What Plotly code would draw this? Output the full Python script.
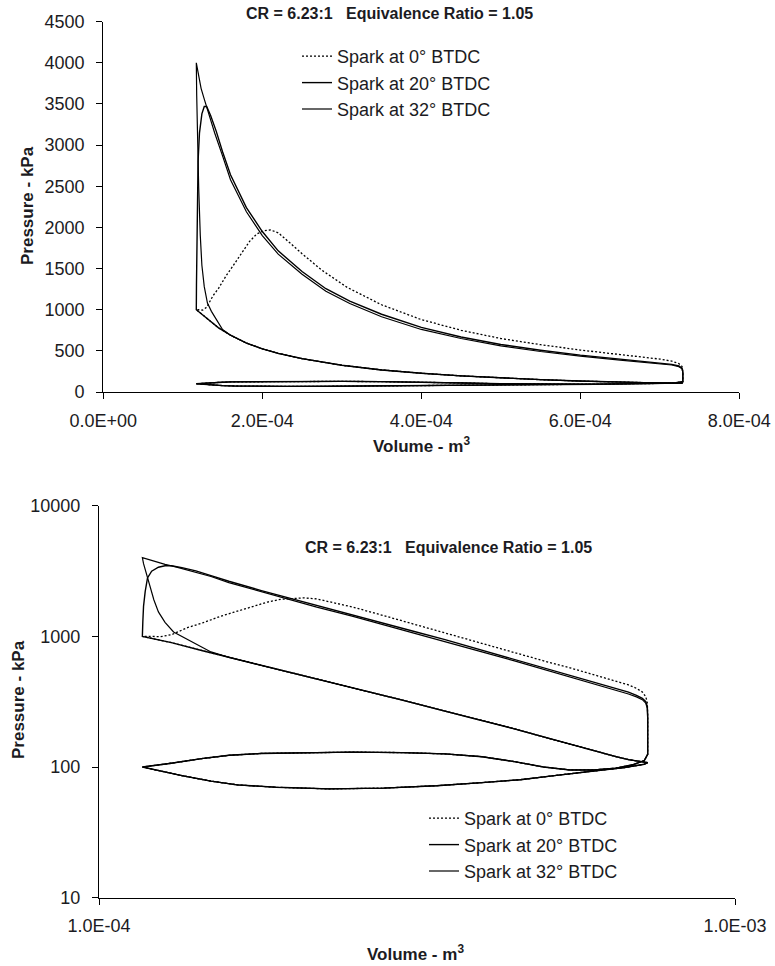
import numpy as np
import plotly.graph_objects as go

# ---------------------------------------------------------------------------
# Cycle data: volume in units of 1e-4 m^3, pressure in kPa
# ---------------------------------------------------------------------------

# intake stroke (TDC -> BDC), shared by all three cases
intake_vol = [1.17, 1.25, 1.35, 1.5, 1.65, 1.9, 2.3, 2.8, 3.4, 4.0, 4.6, 5.2, 5.7, 6.2, 6.7, 7.0, 7.2, 7.29]
intake_p = [100, 93, 86, 78, 73, 70, 68, 69, 72, 76, 80, 86, 91, 95, 99, 102, 105, 108]

# compression stroke (BDC -> TDC), unfired part
compression_vol = [7.29, 7.1, 6.8, 6.5, 6.0, 5.5, 5.0, 4.5, 4.0, 3.5, 3.0, 2.5, 2.2, 2.0, 1.8, 1.6, 1.45, 1.3, 1.17]
compression_p = [108, 110, 114, 120, 133, 150, 170, 196, 228, 268, 325, 405, 470, 525, 595, 690, 780, 895, 1000]

# exhaust stroke (BDC -> TDC), shared by all three cases
exhaust_vol = [7.29, 7.2, 6.9, 6.5, 6.0, 5.5, 5.0, 4.5, 4.0, 3.5, 3.0, 2.5, 2.1, 1.8, 1.6, 1.45, 1.3, 1.17]
exhaust_p = [125, 112, 104, 98, 95, 95, 100, 110, 120, 126, 129, 130, 129, 127, 123, 116, 107, 100]

# combustion + expansion, spark at 0 deg BTDC
burn0_vol = [1.2, 1.25, 1.3, 1.38, 1.45, 1.55, 1.63, 1.75, 1.84, 1.93, 2.02, 2.1, 2.2, 2.35, 2.5, 2.75,
             3.07, 3.5, 4.0, 4.5, 5.0, 5.5, 6.0, 6.5, 6.8, 7.0, 7.15, 7.24, 7.28, 7.29, 7.29]
burn0_p = [1000, 995, 1030, 1170, 1260, 1420, 1530, 1710, 1830, 1920, 1960, 1970, 1935, 1810, 1680, 1480,
           1270, 1060, 880, 750, 650, 575, 510, 455, 425, 400, 375, 345, 310, 250, 140]

# combustion + expansion, spark at 20 deg BTDC
burn20_vol = [1.172, 1.175, 1.182, 1.192, 1.21, 1.24, 1.27, 1.3, 1.35, 1.42, 1.5, 1.6, 1.8, 2.0, 2.2, 2.5,
              2.8, 3.1, 3.5, 4.0, 4.5, 5.0, 5.5, 6.0, 6.5, 6.8, 7.0, 7.15, 7.24, 7.28, 7.29, 7.29]
burn20_p = [1300, 1700, 2200, 2800, 3150, 3380, 3470, 3470, 3360, 3170, 2920, 2640, 2240, 1950, 1715, 1465,
            1255, 1105, 945, 785, 668, 578, 508, 448, 400, 374, 354, 336, 316, 290, 240, 140]

# spark at 32 deg BTDC: pressure rise before TDC (leaves compression line at 1.6)
early32_vol = [1.5, 1.42, 1.36, 1.31, 1.27, 1.24, 1.22, 1.2, 1.185, 1.175, 1.17]
early32_p = [760, 880, 980, 1080, 1280, 1540, 1900, 2480, 3000, 3600, 4000]

# expansion after TDC, spark at 32 deg BTDC
burn32_vol = [1.18, 1.2, 1.23, 1.27, 1.32, 1.4, 1.5, 1.6, 1.8, 2.0, 2.2, 2.5, 2.8, 3.1, 3.5, 4.0, 4.5,
              5.0, 5.5, 6.0, 6.5, 6.8, 7.0, 7.15, 7.24, 7.28, 7.29, 7.29]
burn32_p = [3950, 3830, 3690, 3560, 3400, 3150, 2870, 2580, 2190, 1900, 1675, 1430, 1225, 1075, 915, 760, 650,
            560, 492, 435, 388, 362, 344, 328, 308, 282, 235, 140]

series_names = ["Spark at 0\u00b0 BTDC", "Spark at 20\u00b0 BTDC", "Spark at 32\u00b0 BTDC"]
series_dash = ["2px,2px", "solid", "solid"]
series_width = [1.3, 1.4, 1.2]

top_x_ticks = [0, 2e-4, 4e-4, 6e-4, 8e-4]
top_x_labels = ["0.0E+00", "2.0E-04", "4.0E-04", "6.0E-04", "8.0E-04"]
top_y_ticks = [0, 500, 1000, 1500, 2000, 2500, 3000, 3500, 4000, 4500]
log_x_ticks = [1e-4, 1e-3]
log_x_labels = ["1.0E-04", "1.0E-03"]
log_y_ticks = [10, 100, 1000, 10000]
log_y_labels = ["10", "100", "1000", "10000"]

chart_title = "CR = 6.23:1   Equivalence Ratio = 1.05"

# ---------------------------------------------------------------------------
n_comp_32 = compression_vol.index(1.6) + 1
cycles = [
    (intake_vol + compression_vol + burn0_vol + exhaust_vol,
     intake_p + compression_p + burn0_p + exhaust_p),
    (intake_vol + compression_vol + burn20_vol + exhaust_vol,
     intake_p + compression_p + burn20_p + exhaust_p),
    (intake_vol + compression_vol[:n_comp_32] + early32_vol + burn32_vol + exhaust_vol,
     intake_p + compression_p[:n_comp_32] + early32_p + burn32_p + exhaust_p),
]

FONT = "Liberation Sans, Arial, sans-serif"
TXT = "#1b1b22"

fig = go.Figure()
for (vol, p), name, dash, w in zip(cycles, series_names, series_dash, series_width):
    v = np.array(vol) * 1e-4
    fig.add_trace(go.Scatter(x=v, y=p, mode="lines", name=name, legend="legend",
                             line=dict(color="black", width=w, dash=dash),
                             xaxis="x", yaxis="y"))
for (vol, p), name, dash, w in zip(cycles, series_names, series_dash, series_width):
    v = np.array(vol) * 1e-4
    fig.add_trace(go.Scatter(x=v, y=p, mode="lines", name=name, legend="legend2",
                             line=dict(color="black", width=w, dash=dash),
                             xaxis="x2", yaxis="y2"))

axis_common = dict(showline=True, linecolor="black", linewidth=1.3, ticks="outside",
                   ticklen=6, tickwidth=1.3, tickcolor="black", showgrid=False, zeroline=False,
                   automargin=False, tickfont=dict(family=FONT, size=18, color=TXT))

fig.update_layout(
    width=775, height=966, autosize=False,
    margin=dict(l=0, r=0, t=0, b=0, pad=0),
    paper_bgcolor="white", plot_bgcolor="white",
    font=dict(family=FONT, color=TXT),
    xaxis=dict(domain=[103.3 / 775, 739.3 / 775], range=[0, 8e-4], tickvals=top_x_ticks,
               ticktext=top_x_labels, anchor="y", ticklabelstandoff=6, **axis_common),
    yaxis=dict(domain=[1 - 392 / 966, 1 - 21.7 / 966], range=[0, 4500], tickvals=top_y_ticks,
               anchor="x", ticklabelstandoff=8, **axis_common),
    xaxis2=dict(domain=[99 / 775, 735 / 775], type="log", range=[-4, -3], tickvals=log_x_ticks,
                ticktext=log_x_labels, anchor="y2", ticklabelstandoff=6, **axis_common),
    yaxis2=dict(domain=[1 - 897.7 / 966, 1 - 505.7 / 966], type="log", range=[1, 4],
                tickvals=log_y_ticks, ticktext=log_y_labels, anchor="x2", ticklabelstandoff=8,
                **axis_common),
    legend=dict(x=297 / 775, y=1 - 38 / 966, xanchor="left", yanchor="top",
                bgcolor="rgba(0,0,0,0)", font=dict(family=FONT, size=18, color=TXT),
                tracegroupgap=0),
    legend2=dict(x=424 / 775, y=1 - 800 / 966, xanchor="left", yanchor="top",
                 bgcolor="rgba(0,0,0,0)", font=dict(family=FONT, size=18, color=TXT),
                 tracegroupgap=0),
    showlegend=True,
)

def note(text, x, y, size=17, angle=0):
    fig.add_annotation(text=text, x=x / 775, y=1 - y / 966, xref="paper", yref="paper",
                       showarrow=False, textangle=angle, xanchor="center", yanchor="middle",
                       font=dict(family=FONT, size=size, color=TXT))

note("<b>" + chart_title + "</b>", 389, 13, size=16)
note("<b>" + chart_title + "</b>", 448, 547, size=16)
note("<b>Pressure - kPa</b>", 27, 206, angle=-90)
note("<b>Pressure - kPa</b>", 18, 700, angle=-90)
note("<b>Volume - m<sup>3</sup></b>", 421, 445)
note("<b>Volume - m<sup>3</sup></b>", 415, 953)

fig.write_html("out.html")
